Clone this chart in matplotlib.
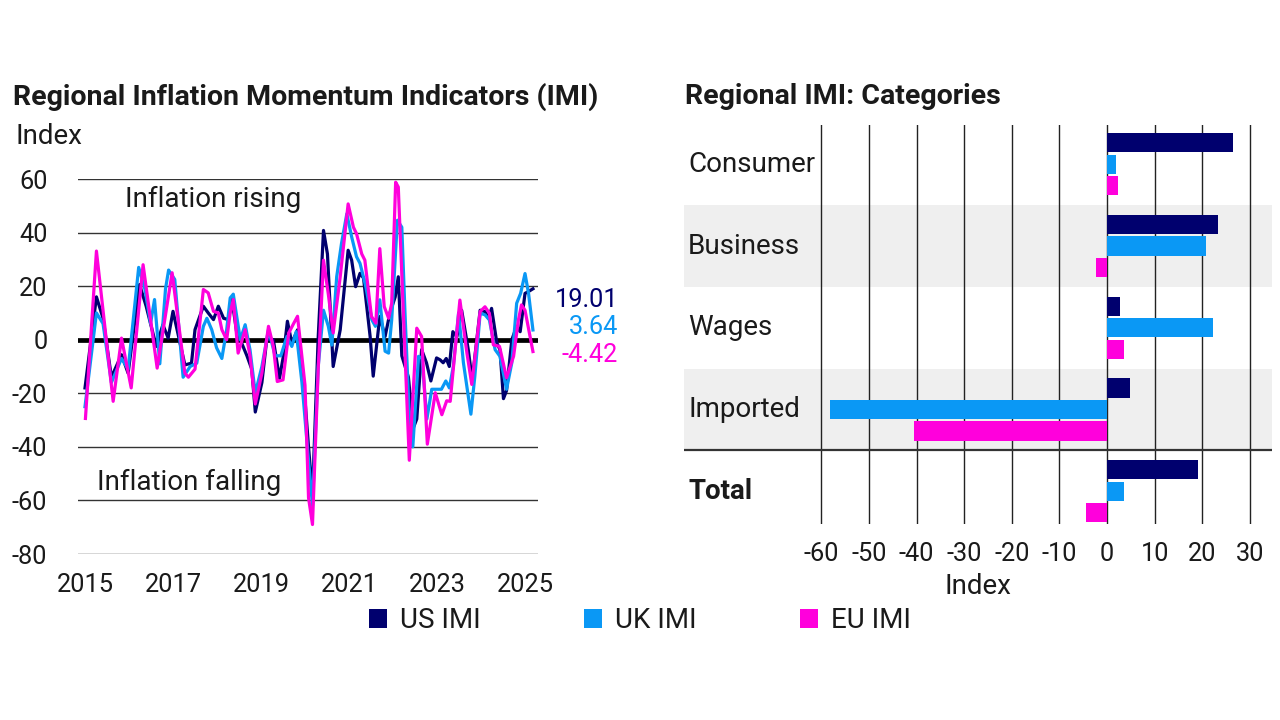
import matplotlib
matplotlib.use("Agg")
import matplotlib.pyplot as plt
import matplotlib.transforms as mtransforms
from matplotlib.patches import Patch
import numpy as np

plt.rcParams['font.family'] = ['Roboto', 'DejaVu Sans']

# ---------------- data ----------------
us_t = [2015.00, 2015.26, 2015.41, 2015.60, 2015.83, 2015.98, 2016.24, 2016.39, 2016.62, 2016.77,
        2016.89, 2017.00, 2017.27, 2017.42, 2017.50, 2017.69, 2017.80, 2017.92, 2018.03, 2018.15,
        2018.26, 2018.34, 2018.45, 2018.56, 2018.68, 2018.79, 2018.87, 2019.02, 2019.13, 2019.28,
        2019.42, 2019.51, 2019.60, 2019.70, 2019.83, 2019.96, 2020.08, 2020.17, 2020.30, 2020.42,
        2020.51, 2020.64, 2020.80, 2020.98, 2021.06, 2021.15, 2021.25, 2021.33, 2021.48, 2021.55,
        2021.70, 2021.82, 2021.93, 2022.05, 2022.12, 2022.20, 2022.35, 2022.46, 2022.54, 2022.65,
        2022.76, 2022.86, 2022.99, 2023.07, 2023.14, 2023.21, 2023.28, 2023.36, 2023.45, 2023.56,
        2023.71, 2023.80, 2023.98, 2024.09, 2024.17, 2024.24, 2024.36, 2024.43, 2024.51, 2024.58,
        2024.70, 2024.81, 2024.89, 2025.00, 2025.08, 2025.18]
us_v = [-18, 16, 8, -14, -5.6, -12.5, 20.6, 12.5, -2.5, 5.6,
        0.6, 10.6, -9.4, -8.75, 3.75, 12.5, 10, 7.5, 12.5, 8,
        7.5, 15, 2.5, -1.25, -6, -11, -27, -16, 0, 0,
        -14.4, -6, 6.9, -1.25, 3.7, -13.6, -40, -58, 1, 40.8,
        32, -10, 3.7, 33.4, 29.7, 19.8, 24.8, 23, 1.2, -13.6,
        8.7, 1.2, 10, 16, 23.5, -6, -14, -33, -29.6, -3.7,
        -8.6, -15.4, -6.8, -7.5, -8.6, -7, -10, 3, 1, 11,
        -3.7, -15, 11, 10.5, 8, 11.7, -1.2, -3.7, -22, -19,
        0, 5, 3, 17.3, 18, 19.01]

uk_t = [2015.00, 2015.26, 2015.41, 2015.60, 2015.83, 2015.98, 2016.22, 2016.36, 2016.49, 2016.58,
        2016.70, 2016.83, 2016.90, 2017.04, 2017.23, 2017.39, 2017.54, 2017.69, 2017.77, 2017.88,
        2017.99, 2018.11, 2018.22, 2018.30, 2018.37, 2018.53, 2018.64, 2018.75, 2018.87, 2019.02,
        2019.17, 2019.32, 2019.45, 2019.59, 2019.70, 2019.80, 2019.93, 2020.08, 2020.17, 2020.30,
        2020.42, 2020.53, 2020.61, 2020.72, 2020.83, 2020.95, 2021.06, 2021.17, 2021.25, 2021.38,
        2021.52, 2021.60, 2021.70, 2021.82, 2021.90, 2021.97, 2022.10, 2022.20, 2022.27, 2022.36,
        2022.45, 2022.58, 2022.66, 2022.77, 2022.88, 2023.00, 2023.10, 2023.20, 2023.28, 2023.37,
        2023.49, 2023.60, 2023.77, 2023.86, 2023.98, 2024.09, 2024.19, 2024.32, 2024.43, 2024.58,
        2024.70, 2024.81, 2024.90, 2025.00, 2025.08, 2025.18]
uk_v = [-25, 10, 6, -16, -7, -11, 27, 19, 6, 15,
        -9, 19, 26, 22.5, -14, -10, -8.75, 5, 8, 3.75,
        -3, -7, 3.75, 15.6, 17, 0, 5.6, -3.75, -20, -10,
        3.75, -6, -6, 1.25, -2.5, 3, -16, -45, -62, -10,
        11, 5, -2, 23.5, 36, 47, 38.4, 31, 28.5, 20,
        7.4, 5, 14.9, -4.3, -5, 7.4, 44.6, 42, 11, -25,
        -40, -6.2, -7, -29.6, -18.5, -18.5, -18.5, -15.4, -18, -10,
        10, -8.6, -27.8, -13.6, 9.9, 9.3, 7.4, -3.7, -6.2, -18.5,
        -8.6, 13.6, 17.3, 24.7, 17.3, 3.64]

eu_t = [2015.01, 2015.26, 2015.64, 2015.83, 2016.05, 2016.32, 2016.64, 2016.98, 2017.27, 2017.35,
        2017.50, 2017.69, 2017.80, 2017.92, 2018.03, 2018.11, 2018.22, 2018.30, 2018.37, 2018.48,
        2018.64, 2018.75, 2018.87, 2019.02, 2019.17, 2019.28, 2019.37, 2019.50, 2019.63, 2019.74,
        2019.83, 2020.00, 2020.08, 2020.17, 2020.30, 2020.42, 2020.53, 2020.64, 2020.80, 2020.98,
        2021.10, 2021.17, 2021.29, 2021.36, 2021.51, 2021.61, 2021.70, 2021.80, 2021.90, 2021.97,
        2022.06, 2022.12, 2022.37, 2022.54, 2022.65, 2022.78, 2022.96, 2023.11, 2023.22, 2023.30,
        2023.39, 2023.52, 2023.68, 2023.79, 2023.98, 2024.09, 2024.19, 2024.28, 2024.42, 2024.58,
        2024.74, 2024.85, 2024.92, 2025.00, 2025.18]
eu_v = [-29.4, 33.1, -23, 0.6, -18, 28, -10.6, 25, -12.5, -14,
        -11, 18.75, 17.5, 10.6, 10, 3.75, 0, 10, 15, -5,
        3.75, -6, -24, -12.5, 5, -2.5, -15.6, -15, 2.5, 6,
        8.75, -17, -59, -69, -11, 29.7, 17, 2.5, 23.5, 50.7,
        42, 39.6, 32, 29.7, 8.7, 6.2, 34, 12.4, 8, 13.6,
        58.8, 57, -45, 4.3, 1.2, -39, -19.8, -28, -22.8, -23,
        -7.4, 14.8, -5, -16.7, 10.5, 12.3, 9.9, -1.9, -2.5, -14.2,
        -6.2, 7.4, 13, 11, -4.42]

series_names = ['US IMI', 'UK IMI', 'EU IMI']
latest = [19.01, 3.64, -4.42]

categories = ['Consumer', 'Business', 'Wages', 'Imported', 'Total']
us_cat = [26.4, 23.2, 2.8, 4.9, 19.01]
uk_cat = [1.9, 20.8, 22.3, -58.2, 3.64]
eu_cat = [2.2, -2.4, 3.5, -40.6, -4.42]

year_ticks = [2015, 2017, 2019, 2021, 2023, 2025]
left_yticks = [-80, -60, -40, -20, 0, 20, 40, 60]
right_xticks = [-60, -50, -40, -30, -20, -10, 0, 10, 20, 30]

# ---------------- style ----------------
C_US = '#00006e'
C_UK = '#0a98f5'
C_EU = '#ff00dc'
colors = [C_US, C_UK, C_EU]
TXT = '#1a1a1a'
FS_NUM = 18.3   # numbers
FS_TXT = 20     # words

W, H = 1280, 720
fig = plt.figure(figsize=(12.8, 7.2), dpi=100)


def fx(px):
    return px / W


def fy(py):
    return 1 - py / H


# ---------------- left chart ----------------
axL = fig.add_axes([fx(78), fy(554), fx(538) - fx(78), fy(179) - fy(554)])
axL.set_xlim(2014.841, 2025.295)
axL.set_ylim(-80, 60)
for s in axL.spines.values():
    s.set_visible(False)
for v in left_yticks:
    if v == 0:
        continue
    axL.axhline(v, color='#333333', lw=1.0, zorder=1)
axL.axhline(0, color='black', lw=3.4, zorder=2)

for t, v, c in zip([us_t, uk_t, eu_t], [us_v, uk_v, eu_v], colors):
    axL.plot(t, v, color=c, lw=2.3, zorder=3, clip_on=False, solid_joinstyle='round')

axL.set_yticks(left_yticks)
axL.set_yticklabels([str(v) for v in left_yticks])
axL.set_xticks(year_ticks)
axL.set_xticklabels([str(y) for y in year_ticks])
axL.tick_params(axis='both', length=0, labelsize=FS_NUM, colors=TXT)
axL.tick_params(axis='y', pad=22)
axL.tick_params(axis='x', pad=14)

axL.text(2017.91, 52.2, 'Inflation rising', ha='center', va='center', fontsize=FS_TXT, color=TXT)
axL.text(2017.36, -53.4, 'Inflation falling', ha='center', va='center', fontsize=FS_TXT, color=TXT)

label_y = [15.0, 4.9, -5.6]
trans = mtransforms.blended_transform_factory(axL.transAxes, axL.transData)
for val, yy, c in zip(latest, label_y, colors):
    axL.text(1.174, yy, f'{val:.2f}', transform=trans, ha='right', va='center',
             fontsize=FS_NUM, color=c)

fig.text(fx(13), fy(97), 'Regional Inflation Momentum Indicators (IMI)', fontsize=20.5,
         fontweight='bold', color=TXT, ha='left', va='center')
fig.text(fx(15), fy(137), 'Index', fontsize=FS_TXT, color=TXT, ha='left', va='center')

# ---------------- right chart ----------------
axR = fig.add_axes([fx(684), fy(524), fx(1272) - fx(684), fy(125) - fy(524)])
axR.set_xlim(-88.8, 34.6)
axR.set_ylim(4.40, -0.48)
for s in axR.spines.values():
    s.set_visible(False)

for k in [1, 3]:
    axR.axhspan(k - 0.5, k + 0.5, color='#efefef', lw=0, zorder=0)
for v in right_xticks:
    axR.axvline(v, color='#222222', lw=1.0, zorder=1)
axR.axhline(3.5, color='#333333', lw=1.6, zorder=1)

y = np.arange(len(categories))
bh = 0.235
off = 0.263
axR.barh(y - off, us_cat, height=bh, color=C_US, zorder=3, label=series_names[0])
axR.barh(y, uk_cat, height=bh, color=C_UK, zorder=3, label=series_names[1])
axR.barh(y + off, eu_cat, height=bh, color=C_EU, zorder=3, label=series_names[2])

axR.set_yticks([])
axR.set_xticks(right_xticks)
axR.set_xticklabels([str(v) for v in right_xticks])
axR.tick_params(axis='x', length=0, labelsize=FS_NUM, colors=TXT, pad=13)
axR.set_xlabel('Index', fontsize=FS_TXT, color=TXT, labelpad=5)

transR = mtransforms.blended_transform_factory(axR.transAxes, axR.transData)
for k, name in enumerate(categories):
    axR.text(0.007, k, name, transform=transR, ha='left', va='center', fontsize=FS_TXT,
             color=TXT, fontweight='bold' if name == 'Total' else 'normal', zorder=4)

fig.text(fx(685), fy(97), 'Regional IMI: Categories', fontsize=20.5, fontweight='bold',
         color=TXT, ha='left', va='center')

# ---------------- legend ----------------
handles = [Patch(facecolor=c, edgecolor='none', label=n) for c, n in zip(colors, series_names)]
fig.legend(handles=handles, loc='center', bbox_to_anchor=(fx(640), fy(621)), ncol=3,
           frameon=False, fontsize=FS_TXT, handlelength=0.65, handleheight=0.65,
           handletextpad=0.47, columnspacing=3.7, labelcolor=TXT)

fig.savefig('out.png', dpi=100, facecolor='white')
